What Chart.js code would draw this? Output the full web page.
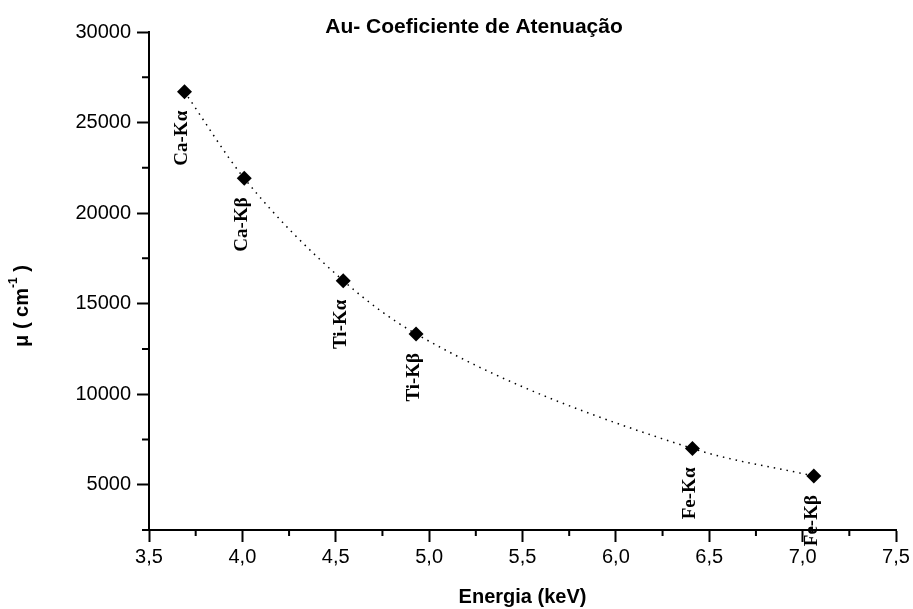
<!DOCTYPE html>
<html>
<head>
<meta charset="utf-8">
<script src="https://cdn.jsdelivr.net/npm/chart.js@4.4.1/dist/chart.umd.min.js"></script>
<style>
  html, body { margin: 0; padding: 0; background: #fff; }
  #wrap { width: 913px; height: 609px; position: relative; }
</style>
</head>
<body>
<div id="wrap"><canvas id="grafico"></canvas></div>
<script>
// Au - coeficiente de atenuação vs energia das linhas K
const energia = [3.69, 4.01, 4.54, 4.93, 6.41, 7.06];
const mu = [26700, 21920, 16270, 13330, 7000, 5480];
const linhas = ["Ca-Kα", "Ca-Kβ", "Ti-Kα", "Ti-Kβ", "Fe-Kα", "Fe-Kβ"];
const xTicks = [3.5, 4.0, 4.5, 5.0, 5.5, 6.0, 6.5, 7.0, 7.5];
const yTicks = [5000, 10000, 15000, 20000, 25000, 30000];
const xMinor = [3.75, 4.25, 4.75, 5.25, 5.75, 6.25, 6.75, 7.25];
const yMinor = [2500, 7500, 12500, 17500, 22500, 27500];

const SANS = '"Liberation Sans", Arial, sans-serif';
const SERIF = '"Liberation Serif", "Times New Roman", serif';

// rótulos das linhas, ticks menores e títulos
const extras = {
  id: "extras",
  afterDatasetsDraw(chart) {
    const { ctx, chartArea, scales: { x, y } } = chart;
    ctx.save();
    ctx.fillStyle = "#000";
    ctx.strokeStyle = "#000";

    ctx.font = `bold 19px ${SERIF}`;
    ctx.textAlign = "right";
    ctx.textBaseline = "middle";
    linhas.forEach((t, i) => {
      const px = x.getPixelForValue(energia[i]);
      const py = y.getPixelForValue(mu[i]);
      ctx.save();
      ctx.translate(px - 2, py + 19);
      ctx.rotate(-Math.PI / 2);
      ctx.fillText(t, 0, 0);
      ctx.restore();
    });

    ctx.lineWidth = 2;
    ctx.beginPath();
    xMinor.forEach((v) => {
      const p = x.getPixelForValue(v);
      ctx.moveTo(p, chartArea.bottom);
      ctx.lineTo(p, chartArea.bottom + 6);
    });
    yMinor.forEach((v) => {
      const p = y.getPixelForValue(v);
      ctx.moveTo(chartArea.left, p);
      ctx.lineTo(chartArea.left - 7, p);
    });
    ctx.stroke();

    ctx.textAlign = "center";
    ctx.font = `bold 21px ${SANS}`;
    ctx.fillText("Au- Coeficiente de Atenuação", 474, 27);

    // eixo y: μ ( cm⁻¹ )
    ctx.save();
    ctx.translate(22, 306);
    ctx.rotate(-Math.PI / 2);
    ctx.textAlign = "left";
    const a = "μ ( cm", sup = "-1", b = " )";
    ctx.font = `bold 20px ${SANS}`;
    const wa = ctx.measureText(a).width, wb = ctx.measureText(b).width;
    ctx.font = `bold 12px ${SANS}`;
    const ws = ctx.measureText(sup).width;
    let cx = -(wa + ws + wb) / 2;
    ctx.font = `bold 20px ${SANS}`;
    ctx.fillText(a, cx, 0);
    ctx.font = `bold 12px ${SANS}`;
    ctx.fillText(sup, cx + wa, -8);
    ctx.font = `bold 20px ${SANS}`;
    ctx.fillText(b, cx + wa + ws, 0);
    ctx.restore();

    ctx.restore();
  },
};

new Chart(document.getElementById("grafico"), {
  type: "scatter",
  data: {
    datasets: [{
      data: energia.map((e, i) => ({ x: e, y: mu[i] })),
      showLine: true,
      cubicInterpolationMode: "monotone",
      borderColor: "#000",
      borderWidth: 1.5,
      borderDash: [1.5, 5],
      pointStyle: "rectRot",
      pointRadius: 7.5,
      pointHoverRadius: 7.5,
      pointBackgroundColor: "#000",
      pointBorderColor: "#000",
      pointBorderWidth: 0,
    }],
  },
  options: {
    responsive: true,
    maintainAspectRatio: false,
    animation: false,
    layout: { padding: { left: 0, top: 32, right: 17, bottom: 0 } },
    plugins: { legend: { display: false }, tooltip: { enabled: false }, title: { display: false } },
    scales: {
      x: {
        type: "linear",
        min: 3.5, max: 7.5,
        afterBuildTicks: (s) => { s.ticks = xTicks.map((v) => ({ value: v })); },
        afterFit: (s) => { s.height = 79; },
        border: { color: "#000", width: 2 },
        grid: { drawOnChartArea: false, tickLength: 12, tickWidth: 2, tickColor: "#000" },
        ticks: {
          color: "#000", padding: 3, autoSkip: false, maxRotation: 0,
          font: { family: SANS, size: 20 },
          callback: (v) => v.toFixed(1).replace(".", ","),
        },
        title: {
          display: true, text: "Energia (keV)", color: "#000",
          font: { family: SANS, size: 20, weight: "bold" },
          padding: { top: 10, bottom: 0 },
        },
      },
      y: {
        type: "linear",
        min: 2500, max: 30000,
        afterBuildTicks: (s) => { s.ticks = yTicks.map((v) => ({ value: v })); },
        afterFit: (s) => { s.width = 149; },
        border: { color: "#000", width: 2 },
        grid: { drawOnChartArea: false, tickLength: 12, tickWidth: 2, tickColor: "#000" },
        ticks: {
          color: "#000", padding: 6, autoSkip: false,
          font: { family: SANS, size: 20 },
          callback: (v) => String(v),
        },
      },
    },
  },
  plugins: [extras],
});
</script>
</body>
</html>
